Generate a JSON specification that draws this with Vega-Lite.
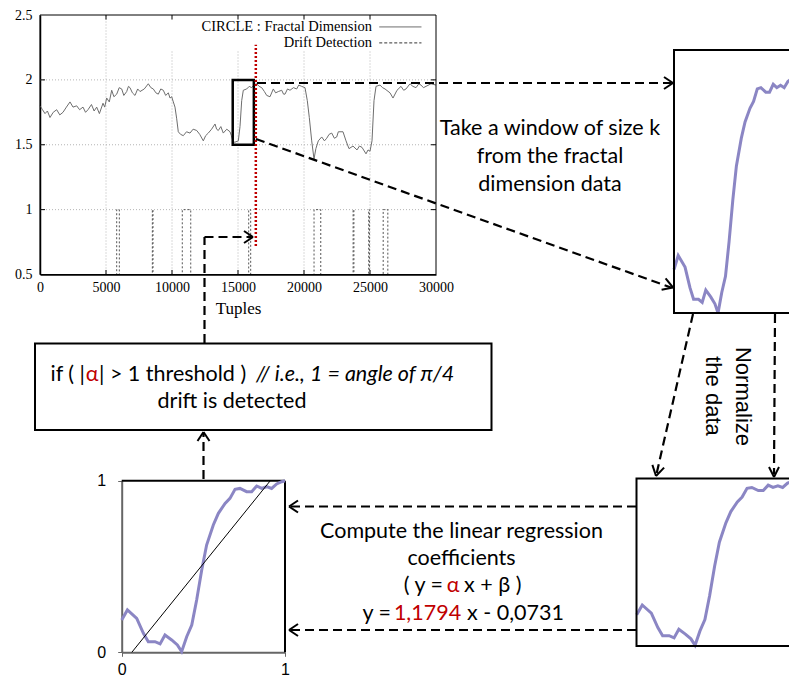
{
  "$schema": "https://vega.github.io/schema/vega-lite/v6.json",
  "width": 789,
  "height": 682,
  "autosize": {"type": "none"},
  "padding": 0,
  "background": "white",
  "config": {"view": {"stroke": null}},
  "datasets": {
    "fd": [
      {"x":0,"y":1.80},{"x":190,"y":1.77},{"x":379,"y":1.74},{"x":560,"y":1.76},{"x":758,"y":1.71},{"x":1000,"y":1.75},{"x":1265,"y":1.77},{"x":1500,"y":1.73},{"x":1742,"y":1.75},{"x":2000,"y":1.79},{"x":2273,"y":1.83},{"x":2500,"y":1.79},{"x":2780,"y":1.80},{"x":3000,"y":1.77},{"x":3258,"y":1.79},{"x":3450,"y":1.75},{"x":3636,"y":1.77},{"x":3900,"y":1.81},{"x":4100,"y":1.76},{"x":4295,"y":1.79},{"x":4500,"y":1.74},{"x":4773,"y":1.82},{"x":4900,"y":1.79},{"x":5053,"y":1.86},{"x":5250,"y":1.83},{"x":5432,"y":1.92},{"x":5600,"y":1.87},{"x":5811,"y":1.89},{"x":6000,"y":1.94},{"x":6189,"y":1.93},{"x":6350,"y":1.88},{"x":6568,"y":1.91},{"x":6700,"y":1.95},{"x":6818,"y":1.94},{"x":7000,"y":1.90},{"x":7197,"y":1.88},{"x":7400,"y":1.93},{"x":7576,"y":1.91},{"x":7900,"y":1.93},{"x":8205,"y":1.97},{"x":8400,"y":1.94},{"x":8583,"y":1.93},{"x":8780,"y":1.90},{"x":8962,"y":1.89},{"x":9150,"y":1.93},{"x":9341,"y":1.92},{"x":9520,"y":1.88},{"x":9720,"y":1.90},{"x":9850,"y":1.86},{"x":9977,"y":1.87},{"x":10100,"y":1.83},{"x":10227,"y":1.79},{"x":10356,"y":1.70},{"x":10477,"y":1.60},{"x":10650,"y":1.58},{"x":10856,"y":1.57},{"x":11100,"y":1.60},{"x":11364,"y":1.59},{"x":11600,"y":1.62},{"x":11871,"y":1.61},{"x":12100,"y":1.58},{"x":12371,"y":1.53},{"x":12550,"y":1.57},{"x":12750,"y":1.59},{"x":13000,"y":1.62},{"x":13258,"y":1.66},{"x":13380,"y":1.62},{"x":13508,"y":1.61},{"x":13700,"y":1.64},{"x":13886,"y":1.59},{"x":14150,"y":1.62},{"x":14394,"y":1.60},{"x":14500,"y":1.57},{"x":14644,"y":1.52},{"x":14773,"y":1.52},{"x":15023,"y":1.53},{"x":15152,"y":1.64},{"x":15280,"y":1.84},{"x":15402,"y":1.92},{"x":15659,"y":1.93},{"x":15850,"y":1.95},{"x":16038,"y":1.94},{"x":16200,"y":1.96},{"x":16417,"y":1.97},{"x":16600,"y":1.95},{"x":16796,"y":1.94},{"x":17000,"y":1.91},{"x":17175,"y":1.88},{"x":17425,"y":1.87},{"x":17674,"y":1.93},{"x":17850,"y":1.90},{"x":18053,"y":1.91},{"x":18311,"y":1.92},{"x":18450,"y":1.89},{"x":18561,"y":1.89},{"x":18750,"y":1.93},{"x":18940,"y":1.92},{"x":19200,"y":1.94},{"x":19447,"y":1.93},{"x":19600,"y":1.96},{"x":19826,"y":1.95},{"x":20076,"y":1.94},{"x":20250,"y":1.84},{"x":20402,"y":1.71},{"x":20583,"y":1.53},{"x":20758,"y":1.39},{"x":20900,"y":1.47},{"x":21084,"y":1.53},{"x":21342,"y":1.56},{"x":21550,"y":1.53},{"x":21720,"y":1.55},{"x":21900,"y":1.58},{"x":22099,"y":1.59},{"x":22300,"y":1.55},{"x":22478,"y":1.56},{"x":22600,"y":1.60},{"x":22728,"y":1.60},{"x":22955,"y":1.60},{"x":23182,"y":1.53},{"x":23409,"y":1.47},{"x":23712,"y":1.49},{"x":24015,"y":1.46},{"x":24200,"y":1.49},{"x":24394,"y":1.48},{"x":24697,"y":1.43},{"x":24850,"y":1.46},{"x":25000,"y":1.45},{"x":25152,"y":1.53},{"x":25303,"y":1.84},{"x":25455,"y":1.95},{"x":25758,"y":1.96},{"x":25950,"y":1.94},{"x":26137,"y":1.93},{"x":26516,"y":1.90},{"x":26743,"y":1.86},{"x":27046,"y":1.92},{"x":27348,"y":1.95},{"x":27550,"y":1.92},{"x":27728,"y":1.93},{"x":28031,"y":1.97},{"x":28250,"y":1.95},{"x":28486,"y":1.94},{"x":28700,"y":1.97},{"x":28864,"y":1.96},{"x":29050,"y":1.94},{"x":29243,"y":1.95},{"x":29622,"y":1.97},{"x":30000,"y":1.96}
    ],
    "drift": [
      {"i":0,"x":0,"y":0.5},{"i":1,"x":5810,"y":0.5},{"i":2,"x":5810,"y":1},{"i":3,"x":6010,"y":1},{"i":4,"x":6010,"y":0.5},
      {"i":5,"x":8510,"y":0.5},{"i":6,"x":8510,"y":1},{"i":7,"x":8560,"y":1},{"i":8,"x":8560,"y":0.5},
      {"i":9,"x":10780,"y":0.5},{"i":10,"x":10780,"y":1},{"i":11,"x":11420,"y":1},{"i":12,"x":11420,"y":0.5},
      {"i":13,"x":15810,"y":0.5},{"i":14,"x":15810,"y":1},{"i":15,"x":15960,"y":1},{"i":16,"x":15960,"y":0.5},
      {"i":17,"x":20760,"y":0.5},{"i":18,"x":20760,"y":1},{"i":19,"x":21270,"y":1},{"i":20,"x":21270,"y":0.5},
      {"i":21,"x":23720,"y":0.5},{"i":22,"x":23720,"y":1},{"i":23,"x":23780,"y":1},{"i":24,"x":23780,"y":0.5},
      {"i":25,"x":24900,"y":0.5},{"i":26,"x":24900,"y":1},{"i":27,"x":24960,"y":1},{"i":28,"x":24960,"y":0.5},
      {"i":29,"x":26000,"y":0.5},{"i":30,"x":26000,"y":1},{"i":31,"x":26350,"y":1},{"i":32,"x":26350,"y":0.5},
      {"i":33,"x":30000,"y":0.5}
    ],
    "tlgrid": [
      {"x":5000,"x2":5000,"y":0.5,"y2":2.5},{"x":10000,"x2":10000,"y":0.5,"y2":2.23},{"x":15000,"x2":15000,"y":0.5,"y2":2.23},{"x":20000,"x2":20000,"y":0.5,"y2":2.23},{"x":25000,"x2":25000,"y":0.5,"y2":2.23},
      {"x":0,"x2":30000,"y":1,"y2":1},{"x":0,"x2":30000,"y":1.5,"y2":1.5},{"x":0,"x2":30000,"y":2,"y2":2}
    ],
    "tlticks": [
      {"x":5000,"x2":5000,"y":0.5,"y2":0.535},{"x":10000,"x2":10000,"y":0.5,"y2":0.535},{"x":15000,"x2":15000,"y":0.5,"y2":0.535},{"x":20000,"x2":20000,"y":0.5,"y2":0.535},{"x":25000,"x2":25000,"y":0.5,"y2":0.535},
      {"x":5000,"x2":5000,"y":2.5,"y2":2.465},{"x":10000,"x2":10000,"y":2.5,"y2":2.465},{"x":15000,"x2":15000,"y":2.5,"y2":2.465},{"x":20000,"x2":20000,"y":2.5,"y2":2.465},{"x":25000,"x2":25000,"y":2.5,"y2":2.465},
      {"x":0,"x2":380,"y":1,"y2":1},{"x":0,"x2":380,"y":1.5,"y2":1.5},{"x":0,"x2":380,"y":2,"y2":2},
      {"x":30000,"x2":29620,"y":1,"y2":1},{"x":30000,"x2":29620,"y":1.5,"y2":1.5},{"x":30000,"x2":29620,"y":2,"y2":2}
    ],
    "win": [
      {"x":0,"y":0.188},{"x":0.035,"y":0.247},{"x":0.092,"y":0.198},{"x":0.133,"y":0.111},{"x":0.163,"y":0.062},{"x":0.204,"y":0.062},{"x":0.235,"y":0.049},{"x":0.265,"y":0.101},{"x":0.306,"y":0.072},{"x":0.341,"y":0.043},{"x":0.367,"y":0.004},{"x":0.398,"y":0.091},{"x":0.429,"y":0.159},{"x":0.459,"y":0.305},{"x":0.49,"y":0.48},{"x":0.52,"y":0.625},{"x":0.561,"y":0.742},{"x":0.592,"y":0.81},{"x":0.633,"y":0.868},{"x":0.663,"y":0.897},{"x":0.694,"y":0.95},{"x":0.724,"y":0.955},{"x":0.765,"y":0.936},{"x":0.796,"y":0.936},{"x":0.827,"y":0.969},{"x":0.857,"y":0.955},{"x":0.888,"y":0.965},{"x":0.918,"y":0.955},{"x":0.949,"y":0.981},{"x":0.98,"y":0.994},{"x":1,"y":1}
    ],
    "reg": [{"x":0.062,"y":0},{"x":0.91,"y":1}],
    "boxes": [
      {"x":674,"x2":820,"y":50,"y2":313},
      {"x":636.5,"x2":820,"y":478.5,"y2":646},
      {"x":35,"x2":491.5,"y":343.5,"y2":430}
    ],
    "dashes": [
      {"x":257,"y":83,"x2":671,"y2":83},
      {"x":256,"y":139,"x2":671,"y2":287.5},
      {"x":693,"y":314,"x2":656.5,"y2":474},
      {"x":775,"y":314,"x2":774,"y2":474},
      {"x":636,"y":506.5,"x2":290,"y2":506.5},
      {"x":636,"y":630,"x2":290,"y2":630},
      {"x":204.5,"y":343,"x2":204.5,"y2":237},
      {"x":204.5,"y":237,"x2":252,"y2":237},
      {"x":203.5,"y":479,"x2":203.5,"y2":433}
    ],
    "heads": [
      {"x":664,"y":77,"x2":673,"y2":83},{"x":664,"y":89,"x2":673,"y2":83},
      {"x":661.6,"y":289.8,"x2":673,"y2":287.5},{"x":665.6,"y":278.4,"x2":673,"y2":287.5},
      {"x":664.1,"y":467.6,"x2":656,"y2":476},{"x":652.4,"y":464.9,"x2":656,"y2":476},
      {"x":769,"y":467,"x2":774,"y2":477},{"x":779,"y":467,"x2":774,"y2":477},
      {"x":298,"y":500.5,"x2":289,"y2":506.5},{"x":298,"y":512.5,"x2":289,"y2":506.5},
      {"x":298,"y":624,"x2":289,"y2":630},{"x":298,"y":636,"x2":289,"y2":630},
      {"x":244,"y":231,"x2":253,"y2":237},{"x":244,"y":243,"x2":253,"y2":237},
      {"x":197.5,"y":441,"x2":203.5,"y2":432},{"x":209.5,"y":441,"x2":203.5,"y2":432}
    ],
    "txtC": [
      {"x":550,"y":128.5,"t":"Take a window of size k"},
      {"x":550,"y":156.5,"t":"from the fractal"},
      {"x":550,"y":185,"t":"dimension data"},
      {"x":461.5,"y":531.5,"t":"Compute the linear regression"},
      {"x":461.5,"y":558.5,"t":"coefficients"},
      {"x":232,"y":401.5,"t":"drift is detected"}
    ],
    "txtR": [
      {"x":443,"y":586,"t":"( y ="},
      {"x":391,"y":613.5,"t":"y ="},
      {"x":85,"y":375,"t":"if ( |"}
    ],
    "txtL": [
      {"x":464,"y":586,"t":"x + β )"},
      {"x":467,"y":613.5,"t":"x - 0,0731"},
      {"x":99,"y":375,"t":"| > 1 threshold )"}
    ],
    "redC": [{"x":453,"y":586,"t":"α"},{"x":427.5,"y":613.5,"t":"1,1794"},{"x":92,"y":375,"t":"α"}],
    "italL": [{"x":256,"y":375,"t":"// i.e., 1 = angle of π/4"}],
    "rot": [{"x":742.5,"y":396.5,"t":"Normalize"},{"x":712.5,"y":396,"t":"the data"}]
  },
  "layer": [
    {
      "encoding": {
        "x": {"field":"x","type":"quantitative","scale":{"domain":[0,30000],"range":[40,436],"nice":false,"zero":false},
          "axis":{"orient":"bottom","offset":-407.5,"values":[0,5000,10000,15000,20000,25000,30000],"format":"d","labelFont":"Liberation Serif","labelFontSize":14,"labelColor":"#000","labelPadding":6,"labelFlush":false,"labelOverlap":false,"ticks":false,"domainColor":"#000","domainWidth":1.5,"grid":false,"title":"Tuples","titleFont":"Liberation Serif","titleFontSize":17,"titleFontWeight":"normal","titleColor":"#000","titlePadding":6}},
        "y": {"field":"y","type":"quantitative","scale":{"domain":[0.5,2.5],"range":[274.5,15],"nice":false,"zero":false},
          "axis":{"orient":"left","offset":-40,"values":[0.5,1,1.5,2,2.5],"format":"~g","labelFont":"Liberation Serif","labelFontSize":14,"labelColor":"#000","labelPadding":8,"labelFlush":false,"labelOverlap":false,"ticks":false,"domainColor":"#000","domainWidth":1.5,"grid":false,"title":null}}
      },
      "layer": [
        {"data":{"name":"tlgrid"},"mark":{"type":"rule","color":"#b5b5b5","strokeWidth":1,"strokeDash":[1,2]},
         "encoding":{"x2":{"field":"x2"},"y2":{"field":"y2"}}},
        {"data":{"name":"tlticks"},"mark":{"type":"rule","color":"#000","strokeWidth":1},
         "encoding":{"x2":{"field":"x2"},"y2":{"field":"y2"}}},
        {"data":{"name":"fd"},"mark":{"type":"line","color":"#6e6e6e","strokeWidth":1}},
        {"data":{"name":"drift"},"mark":{"type":"line","color":"#555","strokeWidth":1,"strokeDash":[2,2]},
         "encoding":{"order":{"field":"i","type":"quantitative"}}},
        {"data":{"values":[{"x":25700,"x2":28900,"y":2.408,"y2":2.408}]},"mark":{"type":"rule","color":"#6e6e6e","strokeWidth":1},
         "encoding":{"x2":{"field":"x2"},"y2":{"field":"y2"}}},
        {"data":{"values":[{"x":25700,"x2":28900,"y":2.285,"y2":2.285}]},"mark":{"type":"rule","color":"#333","strokeWidth":1,"strokeDash":[3,2]},
         "encoding":{"x2":{"field":"x2"},"y2":{"field":"y2"}}},
        {"data":{"values":[{"x":25150,"y":2.408,"t":"CIRCLE : Fractal Dimension"},{"x":25150,"y":2.285,"t":"Drift Detection"}]},
         "mark":{"type":"text","align":"right","baseline":"middle","font":"Liberation Serif","fontSize":14.5,"color":"#000"},
         "encoding":{"text":{"field":"t"}}},
        {"data":{"values":[{"x":0,"x2":30000,"y":0.5,"y2":2.5}]},"mark":{"type":"rect","fill":"transparent","stroke":"#000","strokeWidth":1},
         "encoding":{"x2":{"field":"x2"},"y2":{"field":"y2"}}},
        {"data":{"values":[{"x":14600,"x2":16200,"y":1.5,"y2":2.0}]},"mark":{"type":"rect","fill":"transparent","stroke":"#000","strokeWidth":2.5},
         "encoding":{"x2":{"field":"x2"},"y2":{"field":"y2"}}},
        {"data":{"values":[{"x":16350,"x2":16350,"y":0.72,"y2":2.27}]},"mark":{"type":"rule","color":"#c00000","strokeWidth":2.5,"strokeDash":[2,2]},
         "encoding":{"x2":{"field":"x2"},"y2":{"field":"y2"}}}
      ]
    },
    {
      "encoding": {
        "x": {"field":"x","type":"quantitative","scale":{"domain":[0,1],"range":[121.7,285],"nice":false,"zero":false},
          "axis":{"orient":"bottom","offset":-29.7,"values":[0,1],"format":"d","labelFont":"Liberation Sans","labelFontSize":16,"labelColor":"#000","labelPadding":5,"labelFlush":false,"tickSize":4,"tickColor":"#666","domainColor":"#666","domainWidth":2,"grid":false,"title":null}},
        "y": {"field":"y","type":"quantitative","scale":{"domain":[0,1],"range":[652.3,480.7],"nice":false,"zero":false},
          "axis":{"orient":"left","offset":-121.7,"values":[0,1],"format":"d","labelFont":"Liberation Sans","labelFontSize":16,"labelColor":"#000","labelPadding":12,"labelFlush":false,"tickSize":4,"tickColor":"#666","domainColor":"#666","domainWidth":2,"grid":false,"title":null}}
      },
      "layer": [
        {"data":{"values":[{"x":0,"x2":1,"y":1,"y2":1},{"x":1,"x2":1,"y":0,"y2":1}]},"mark":{"type":"rule","color":"#000","strokeWidth":2},
         "encoding":{"x2":{"field":"x2"},"y2":{"field":"y2"}}},
        {"data":{"name":"win"},"mark":{"type":"line","color":"#8b86c4","strokeWidth":3}},
        {"data":{"name":"reg"},"mark":{"type":"line","color":"#000","strokeWidth":1}}
      ]
    },
    {
      "encoding": {
        "x": {"field":"x","type":"quantitative","scale":{"domain":[0,1],"range":[674,794],"nice":false,"zero":false},"axis":null},
        "y": {"field":"y","type":"quantitative","scale":{"domain":[0,1],"range":[314,77],"nice":false,"zero":false},"axis":null}
      },
      "layer": [
        {"data":{"name":"win"},"mark":{"type":"line","color":"#8b86c4","strokeWidth":3}}
      ]
    },
    {
      "encoding": {
        "x": {"field":"x","type":"quantitative","scale":{"domain":[0,1],"range":[636.7,795.7],"nice":false,"zero":false},"axis":null},
        "y": {"field":"y","type":"quantitative","scale":{"domain":[0,1],"range":[646,480],"nice":false,"zero":false},"axis":null}
      },
      "layer": [
        {"data":{"name":"win"},"mark":{"type":"line","color":"#8b86c4","strokeWidth":3}}
      ]
    },
    {
      "encoding": {
        "x": {"field":"x","type":"quantitative","scale":{"domain":[0,789],"range":[0,789],"nice":false,"zero":false},"axis":null},
        "y": {"field":"y","type":"quantitative","scale":{"domain":[0,682],"range":[0,682],"nice":false,"zero":false},"axis":null}
      },
      "layer": [
        {"data":{"name":"boxes"},"mark":{"type":"rect","fill":"transparent","stroke":"#000","strokeWidth":2},
         "encoding":{"x2":{"field":"x2"},"y2":{"field":"y2"}}},
        {"data":{"name":"dashes"},"mark":{"type":"rule","color":"#000","strokeWidth":2.2,"strokeDash":[9,5]},
         "encoding":{"x2":{"field":"x2"},"y2":{"field":"y2"}}},
        {"data":{"name":"heads"},"mark":{"type":"rule","color":"#000","strokeWidth":2},
         "encoding":{"x2":{"field":"x2"},"y2":{"field":"y2"}}},
        {"data":{"name":"txtC"},"mark":{"type":"text","align":"center","baseline":"middle","font":"Lato","fontSize":21.5,"color":"#000"},
         "encoding":{"text":{"field":"t"}}},
        {"data":{"name":"txtR"},"mark":{"type":"text","align":"right","baseline":"middle","font":"Lato","fontSize":21.5,"color":"#000"},
         "encoding":{"text":{"field":"t"}}},
        {"data":{"name":"txtL"},"mark":{"type":"text","align":"left","baseline":"middle","font":"Lato","fontSize":21.5,"color":"#000"},
         "encoding":{"text":{"field":"t"}}},
        {"data":{"name":"redC"},"mark":{"type":"text","align":"center","baseline":"middle","font":"Lato","fontSize":21.5,"color":"#c00000"},
         "encoding":{"text":{"field":"t"}}},
        {"data":{"name":"italL"},"mark":{"type":"text","align":"left","baseline":"middle","font":"Lato","fontSize":21.5,"fontStyle":"italic","color":"#000"},
         "encoding":{"text":{"field":"t"}}},
        {"data":{"name":"rot"},"mark":{"type":"text","align":"center","baseline":"middle","angle":90,"font":"Liberation Sans","fontSize":22,"color":"#000"},
         "encoding":{"text":{"field":"t"}}}
      ]
    }
  ],
  "resolve": {"scale": {"x": "independent", "y": "independent"}}
}
